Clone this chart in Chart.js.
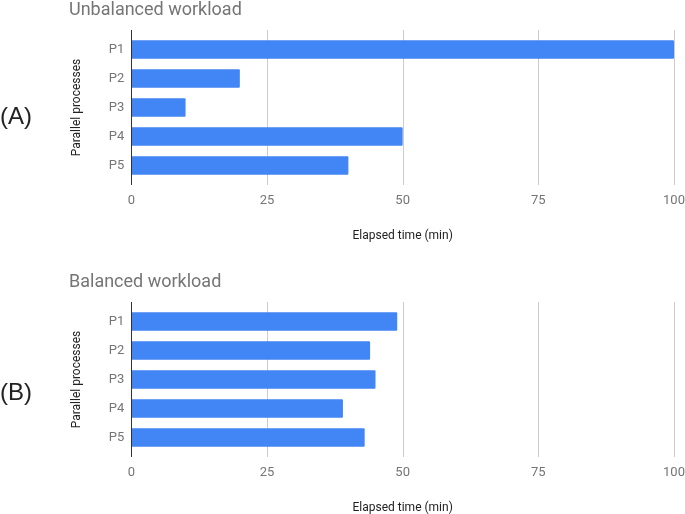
<!DOCTYPE html>
<html>
<head>
<meta charset="utf-8">
<script src="https://cdn.jsdelivr.net/npm/chart.js@4"></script>
<style>
  html, body { margin: 0; padding: 0; background: #fff; }
  #wrap { position: relative; width: 685px; height: 514px; overflow: hidden; }
  .panel { position: absolute; left: 0; width: 685px; height: 243px; }
  .tag { position: absolute; left: 0; font: 24px "Liberation Sans", sans-serif; color: #222; line-height: 1; }
</style>
</head>
<body>
<div id="wrap">
  <div class="panel" style="top:0"><canvas id="chartA" width="685" height="243"></canvas></div>
  <div class="panel" style="top:272px"><canvas id="chartB" width="685" height="243"></canvas></div>
  <div class="tag" style="top:104px">(A)</div>
  <div class="tag" style="top:380px">(B)</div>
</div>
<script>
const processes = ['P1', 'P2', 'P3', 'P4', 'P5'];
const unbalancedTimes = [100, 20, 10, 50, 40];
const balancedTimes = [49, 44, 45, 39, 43];
const timeTicks = [0, 25, 50, 75, 100];

// vertical grid lines, drawn a bit past the plot like the original
const gridPlugin = {
  id: 'extGrid',
  beforeDatasetsDraw(chart) {
    const { ctx, chartArea, scales } = chart;
    ctx.save();
    ctx.lineWidth = 1;
    ctx.strokeStyle = '#cccccc';
    timeTicks.forEach(v => {
      if (v === 0) return;
      const x = Math.round(scales.x.getPixelForValue(v)) + 0.5;
      ctx.beginPath();
      ctx.moveTo(x, chartArea.top - 5);
      ctx.lineTo(x, chartArea.bottom + 5);
      ctx.stroke();
    });
    ctx.restore();
  },
  afterDatasetsDraw(chart) {
    const { ctx, chartArea, scales } = chart;
    const x = Math.round(scales.x.getPixelForValue(0)) + 0.5;
    ctx.save();
    ctx.strokeStyle = '#333333';
    ctx.lineWidth = 1;
    ctx.beginPath();
    ctx.moveTo(x, chartArea.top - 5);
    ctx.lineTo(x, chartArea.bottom + 5);
    ctx.stroke();
    ctx.restore();
  }
};

function makeChart(id, title, values) {
  return new Chart(document.getElementById(id), {
    type: 'bar',
    data: {
      labels: processes,
      datasets: [{
        data: values,
        backgroundColor: '#4285f4',
        borderRadius: 1,
        categoryPercentage: 1,
        barPercentage: 0.64
      }]
    },
    options: {
      indexAxis: 'y',
      responsive: false,
      animation: false,
      layout: { padding: { left: 69, right: 11, top: 0, bottom: 0 } },
      plugins: {
        legend: { display: false },
        tooltip: { enabled: false },
        title: {
          display: true,
          text: title,
          align: 'start',
          color: '#757575',
          font: { family: 'Roboto', size: 18, weight: 'normal', lineHeight: 1.2 },
          padding: { top: 0, bottom: 13.4 }
        }
      },
      scales: {
        x: {
          min: timeTicks[0],
          max: timeTicks[timeTicks.length - 1],
          grid: { display: false, drawTicks: false },
          border: { display: false },
          ticks: {
            stepSize: timeTicks[1] - timeTicks[0],
            padding: 13,
            color: '#757575',
            font: { family: 'Roboto', size: 13 }
          },
          title: {
            display: true,
            text: 'Elapsed time (min)',
            color: '#222222',
            font: { family: 'Roboto', size: 12 },
            padding: { top: 0, bottom: 0 }
          },
          afterFit(scale) {
            scale.height = 63;
            scale.paddingLeft = 0;
            scale.paddingRight = 0;
          }
        },
        y: {
          grid: { display: false, drawTicks: false },
          border: { display: false },
          ticks: {
            padding: 7,
            color: '#757575',
            font: { family: 'Roboto', size: 13 }
          },
          title: {
            display: true,
            text: 'Parallel processes',
            color: '#222222',
            font: { family: 'Roboto', size: 12 },
            padding: { top: 1, bottom: 0 }
          },
          afterFit(scale) { scale.width = 62.3; }
        }
      }
    },
    plugins: [gridPlugin]
  });
}

makeChart('chartA', 'Unbalanced workload', unbalancedTimes);
makeChart('chartB', 'Balanced workload', balancedTimes);
</script>
</body>
</html>
